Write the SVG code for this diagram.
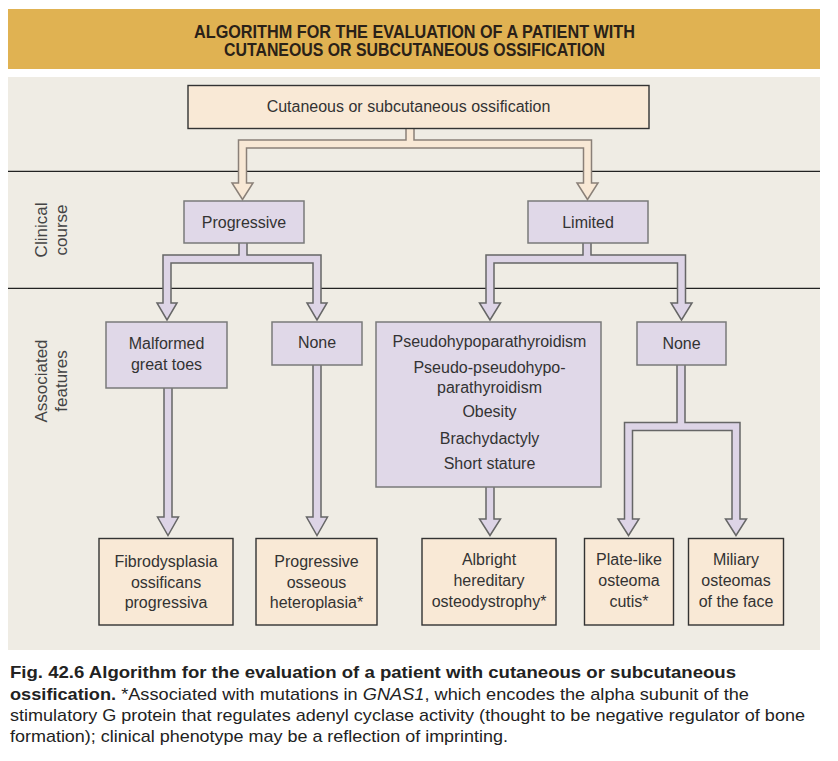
<svg xmlns="http://www.w3.org/2000/svg" width="838" height="761" viewBox="0 0 838 761">
<style>
.t{font-family:"Liberation Sans",Arial,sans-serif;font-size:16px;fill:#333;text-anchor:middle}
.side{font-family:"Liberation Sans",Arial,sans-serif;font-size:17px;fill:#444;text-anchor:middle}
.pb{fill:#E0D8E8;stroke:#7a7a7a;stroke-width:1.5}
.ob{fill:#F9E9D6;stroke:#333;stroke-width:1.4}
.pa{fill:#DDD4E6;stroke:#666;stroke-width:1.5;stroke-linejoin:miter}
.oa{fill:#F8E8D5;stroke:#8a8078;stroke-width:1.5;stroke-linejoin:miter}
.sep{stroke:#222;stroke-width:1.3}
.cap{font-family:"Liberation Sans",Arial,sans-serif;font-size:17px;fill:#222}
</style>
<rect width="838" height="761" fill="#fff"/>
<rect x="8" y="9" width="812" height="60" fill="#E0B252"/>
<g id="title" font-family="Liberation Sans, Arial, sans-serif" font-weight="bold" font-size="17.5" fill="#2a2118" text-anchor="middle">
<text x="414.5" y="37.5" textLength="441" lengthAdjust="spacingAndGlyphs">ALGORITHM FOR THE EVALUATION OF A PATIENT WITH</text>
<text x="414.5" y="56" textLength="381" lengthAdjust="spacingAndGlyphs">CUTANEOUS OR SUBCUTANEOUS OSSIFICATION</text>
</g>
<rect x="8" y="77" width="812" height="573" fill="#EFECE4"/>
<line class="sep" x1="8" y1="171.3" x2="820" y2="171.3"/>
<line class="sep" x1="8" y1="288.3" x2="820" y2="288.3"/>
<g id="labels">
<text class="side" transform="translate(47,230) rotate(-90)">Clinical</text>
<text class="side" transform="translate(67,230) rotate(-90)">course</text>
<text class="side" transform="translate(47,381) rotate(-90)">Associated</text>
<text class="side" transform="translate(67,381) rotate(-90)">features</text>
</g>
<g id="connectors">
<path class="oa" d="M406,128.7 V140 H238.5 V183 H232 L242.5,199.5 L253,183 H246.5 V148 H583.5 V183 H577 L587.5,199.5 L598,183 H591.5 V140 H414 V128.7"/>
<path class="pa" d="M239,243 V255 H163 V303 H157 L167,320 L177,303 H171 V263 H313 V303 H307 L317,320 L327,303 H321 V255 H247 V243"/>
<path class="pa" d="M583,243 V255 H486 V303 H479.5 L490,320 L500.5,303 H494 V263 H677.5 V303 H671 L681.5,320 L692,303 H685.5 V255 H591 V243"/>
<path class="pa" d="M164,388 V517 H157.5 L168,535.5 L178.5,517 H172 V388"/>
<path class="pa" d="M313,365 V517 H306.5 L317,535.5 L327.5,517 H321 V365"/>
<path class="pa" d="M486,487 V519 H479.5 L490,535.5 L500.5,519 H494 V487"/>
<path class="pa" d="M677,365 V422.5 H624.5 V519 H618 L628.5,535.5 L639,519 H632.5 V430.5 H732 V519 H725.5 L736,535.5 L746.5,519 H740 V422.5 H685 V365"/>
</g>
<g id="n-root">
<rect class="ob" x="188" y="85.5" width="461" height="43"/>
<text class="t" x="408.5" y="112">Cutaneous or subcutaneous ossification</text>
</g>
<g id="n-progressive">
<rect class="pb" x="184" y="201" width="120" height="42"/>
<text class="t" x="244" y="227.5">Progressive</text>
</g>
<g id="n-limited">
<rect class="pb" x="528" y="201" width="120" height="42"/>
<text class="t" x="588" y="227.5">Limited</text>
</g>
<g id="n-malformed">
<rect class="pb" x="106" y="322" width="121" height="66"/>
<text class="t" x="166.5" y="348.5">Malformed</text>
<text class="t" x="166.5" y="369.5">great toes</text>
</g>
<g id="n-none1">
<rect class="pb" x="272" y="322" width="90" height="43"/>
<text class="t" x="317" y="347.5">None</text>
</g>
<g id="n-pseudo">
<rect class="pb" x="376" y="322" width="225" height="165"/>
<text class="t" x="489.5" y="346.5">Pseudohypoparathyroidism</text>
<text class="t" x="489.5" y="372.8">Pseudo-pseudohypo-</text>
<text class="t" x="489.5" y="392.8">parathyroidism</text>
<text class="t" x="489.5" y="417.2">Obesity</text>
<text class="t" x="489.5" y="443.5">Brachydactyly</text>
<text class="t" x="489.5" y="468.5">Short stature</text>
</g>
<g id="n-none2">
<rect class="pb" x="637" y="322" width="89" height="43"/>
<text class="t" x="681.5" y="348.5">None</text>
</g>
<g id="n-fop">
<rect class="ob" x="99" y="538.5" width="134" height="86.5"/>
<text class="t" x="166" y="567">Fibrodysplasia</text>
<text class="t" x="166" y="587.5">ossificans</text>
<text class="t" x="166" y="608">progressiva</text>
</g>
<g id="n-poh">
<rect class="ob" x="256" y="538.5" width="121" height="86.5"/>
<text class="t" x="316.5" y="567">Progressive</text>
<text class="t" x="316.5" y="587.5">osseous</text>
<text class="t" x="316.5" y="608">heteroplasia*</text>
</g>
<g id="n-aho">
<rect class="ob" x="422" y="538.5" width="134" height="86.5"/>
<text class="t" x="489" y="565">Albright</text>
<text class="t" x="489" y="585.5">hereditary</text>
<text class="t" x="489" y="606.5">osteodystrophy*</text>
</g>
<g id="n-plate">
<rect class="ob" x="584.5" y="538.5" width="89" height="86.5"/>
<text class="t" x="629" y="565">Plate-like</text>
<text class="t" x="629" y="585.5">osteoma</text>
<text class="t" x="629" y="606.5">cutis*</text>
</g>
<g id="n-miliary">
<rect class="ob" x="688.5" y="538.5" width="95" height="86.5"/>
<text class="t" x="736" y="565">Miliary</text>
<text class="t" x="736" y="585.5">osteomas</text>
<text class="t" x="736" y="606.5">of the face</text>
</g>
<g id="caption">
<text class="cap" x="10" y="678.3" font-weight="bold" textLength="726" lengthAdjust="spacingAndGlyphs">Fig. 42.6 Algorithm for the evaluation of a patient with cutaneous or subcutaneous</text>
<text class="cap" x="10" y="700" textLength="739" lengthAdjust="spacingAndGlyphs"><tspan font-weight="bold">ossification.</tspan> *Associated with mutations in <tspan font-style="italic">GNAS1</tspan>, which encodes the alpha subunit of the</text>
<text class="cap" x="10" y="720.5" textLength="795" lengthAdjust="spacingAndGlyphs">stimulatory G protein that regulates adenyl cyclase activity (thought to be negative regulator of bone</text>
<text class="cap" x="10" y="742.3" textLength="498" lengthAdjust="spacingAndGlyphs">formation); clinical phenotype may be a reflection of imprinting.</text>
</g>
</svg>
